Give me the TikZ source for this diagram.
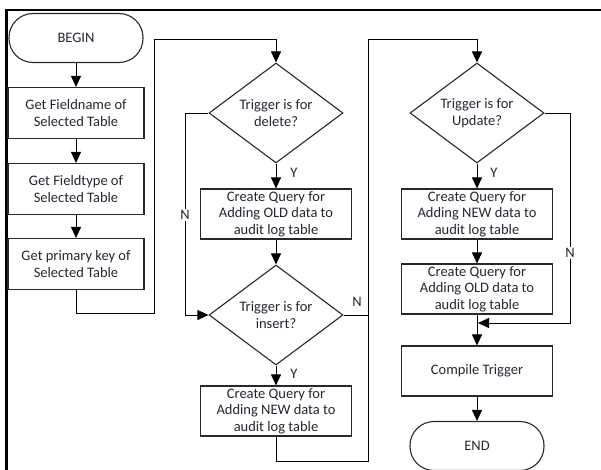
\documentclass[tikz,border=0pt]{standalone}
\usepackage{fontspec}
\setmainfont{Carlito}
\usetikzlibrary{shapes.geometric,arrows.meta}
\definecolor{txt}{RGB}{38,38,52}
\definecolor{edge}{RGB}{40,40,40}
\tikzset{
  base/.style={draw=edge,line width=1.1pt,text=txt,inner sep=0pt,align=center,
    font=\fontsize{14.5}{16.5}\selectfont},
  procbox/.style={base,rectangle,minimum width=136pt,minimum height=51pt},
  qbox/.style={base,rectangle,minimum width=151pt,minimum height=50pt},
  term/.style={base,rectangle,rounded corners=24pt,minimum width=134pt,minimum height=49pt},
  decision/.style={base,diamond,aspect=1.34,minimum width=134pt,minimum height=100pt},
  conn/.style={draw=black,line width=0.9pt},
  arr/.style={conn,-{Triangle[length=11pt,width=10pt]}},
  lbl/.style={text=txt,font=\fontsize{14.5}{16.5}\selectfont,inner sep=1pt},
  nlbl/.style={lbl,fill=white,inner sep=1.5pt}
}
\begin{document}
\begin{tikzpicture}[x=1pt,y=-1pt]
\useasboundingbox (0,0) rectangle (601,469);
% frame
\draw[line width=2pt,black] (602,10) -- (6,10);
\draw[line width=3pt,black] (6,9) -- (6,470);
% left column
\node[term] (begin) at (76,38) {BEGIN};
\node[procbox] (b1) at (76,113) {Get Fieldname of\\Selected Table};
\node[procbox] (b2) at (76,189) {Get Fieldtype of\\Selected Table};
\node[procbox] (b3) at (76,264) {Get primary key of\\Selected Table};
% middle column
\node[decision] (d1) at (276,113) {Trigger is for\\delete?};
\node[qbox] (q1) at (276,214) {Create Query for\\Adding OLD data to\\audit log table};
\node[decision] (d2) at (276,315) {Trigger is for\\insert?};
\node[qbox] (q2) at (276,411) {Create Query for\\Adding NEW data to\\audit log table};
% right column
\node[decision] (d3) at (477,113) {Trigger is for\\Update?};
\node[qbox] (q3) at (477,214) {Create Query for\\Adding NEW data to\\audit log table};
\node[qbox] (q4) at (477,289) {Create Query for\\Adding OLD data to\\audit log table};
\node[qbox] (ct) at (477,371) {Compile Trigger};
\node[term] (end) at (477,446) {END};
% helper coordinates
\coordinate (c1) at (154,313);
\coordinate (c2) at (154,39);
\coordinate (c3) at (185,113);
\coordinate (c4) at (368,461);
\coordinate (c5) at (368,39);
\coordinate (c6) at (368,315);
\coordinate (c7) at (570,323);
\coordinate (m) at (478,323);
% connectors
\draw[arr] (begin) -- (b1);
\draw[arr] (b1) -- (b2);
\draw[arr] (b2) -- (b3);
\draw[arr] (b3.south) |- (c1) -- (c2) -| (d1.north);
\draw[arr] (d1) -- (q1);
\draw[arr] (q1) -- (d2);
\draw[arr] (d1.west) -- (c3) |- (d2.west);
\draw[arr] (d2) -- (q2);
\draw[arr] (q2.south) |- (c4) -- (c5) -| (d3.north);
\draw[conn] (d2.east) -- (c6);
\draw[arr] (d3) -- (q3);
\draw[arr] (q3) -- (q4);
\draw[arr] (q4) -- (ct);
\draw[arr] (d3.east) -| (c7) -- (m);
\draw[arr] (ct) -- (end);
% labels
\node[lbl] (y1) at (294,173) {Y};
\node[lbl] (y2) at (294,374) {Y};
\node[lbl] (y3) at (494,173) {Y};
\node[nlbl] (n1) at (185,215) {N};
\node[lbl] (n2) at (357,302) {N};
\node[nlbl] (n3) at (570,253) {N};
\end{tikzpicture}
\end{document}
